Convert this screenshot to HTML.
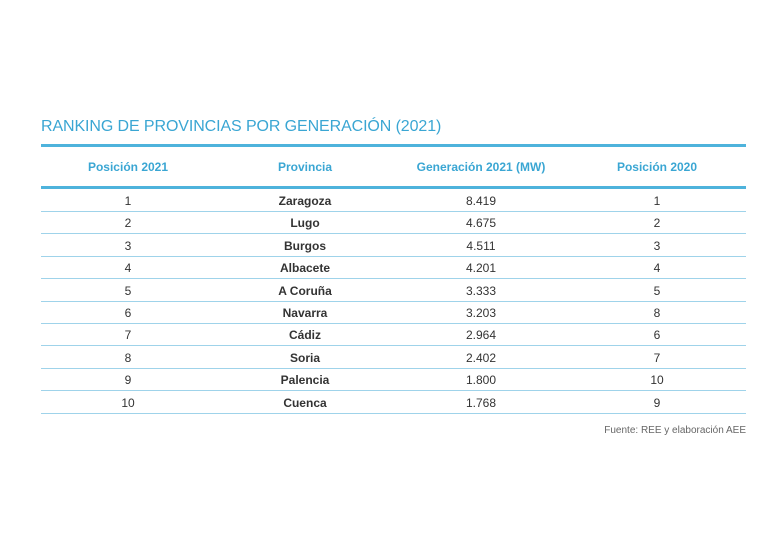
<!DOCTYPE html><html><head><meta charset="utf-8"><style>
body{margin:0;width:768px;height:538px;background:#fff;font-family:"Liberation Sans",sans-serif;position:relative;overflow:hidden}
.t{position:absolute;left:41px;top:118px;font-size:16px;color:#3aa6d3;letter-spacing:-0.1px}
.ln{position:absolute;left:41px;width:705px;background:#4eb3dc}
.c{position:absolute;width:180px;text-align:center;font-size:12px;color:#333;transform:translateX(-90px)}
.h{color:#3aa6d3;font-weight:bold;font-size:12px}
.b{font-weight:bold}
.f{position:absolute;right:22px;top:425px;font-size:10px;color:#666}
</style></head><body>
<div class="t">RANKING DE PROVINCIAS POR GENERACIÓN (2021)</div>
<div class="ln" style="top:144px;height:3px"></div>
<div class="ln" style="top:186px;height:3px"></div>
<div class="c h" style="left:128px;top:160px">Posición 2021</div>
<div class="c h" style="left:305px;top:160px">Provincia</div>
<div class="c h" style="left:481px;top:160px">Generación 2021 (MW)</div>
<div class="c h" style="left:657px;top:160px">Posición 2020</div>
<div id="rows"></div>
<div class="f">Fuente: REE y elaboración AEE</div>
<script>
var d=[[1,"Zaragoza","8.419",1],[2,"Lugo","4.675",2],[3,"Burgos","4.511",3],[4,"Albacete","4.201",4],[5,"A Coruña","3.333",5],[6,"Navarra","3.203",8],[7,"Cádiz","2.964",6],[8,"Soria","2.402",7],[9,"Palencia","1.800",10],[10,"Cuenca","1.768",9]];
var h="";d.forEach(function(r,i){var y=194+i*22.4;
h+='<div class="c" style="left:128px;top:'+y+'px">'+r[0]+'</div><div class="c b" style="left:305px;top:'+y+'px">'+r[1]+'</div><div class="c" style="left:481px;top:'+y+'px">'+r[2]+'</div><div class="c" style="left:657px;top:'+y+'px">'+r[3]+'</div><div class="ln" style="top:'+(211+i*22.4)+'px;height:1px;background:#9fd3ea"></div>';});
document.getElementById("rows").innerHTML=h;
</script></body></html>
